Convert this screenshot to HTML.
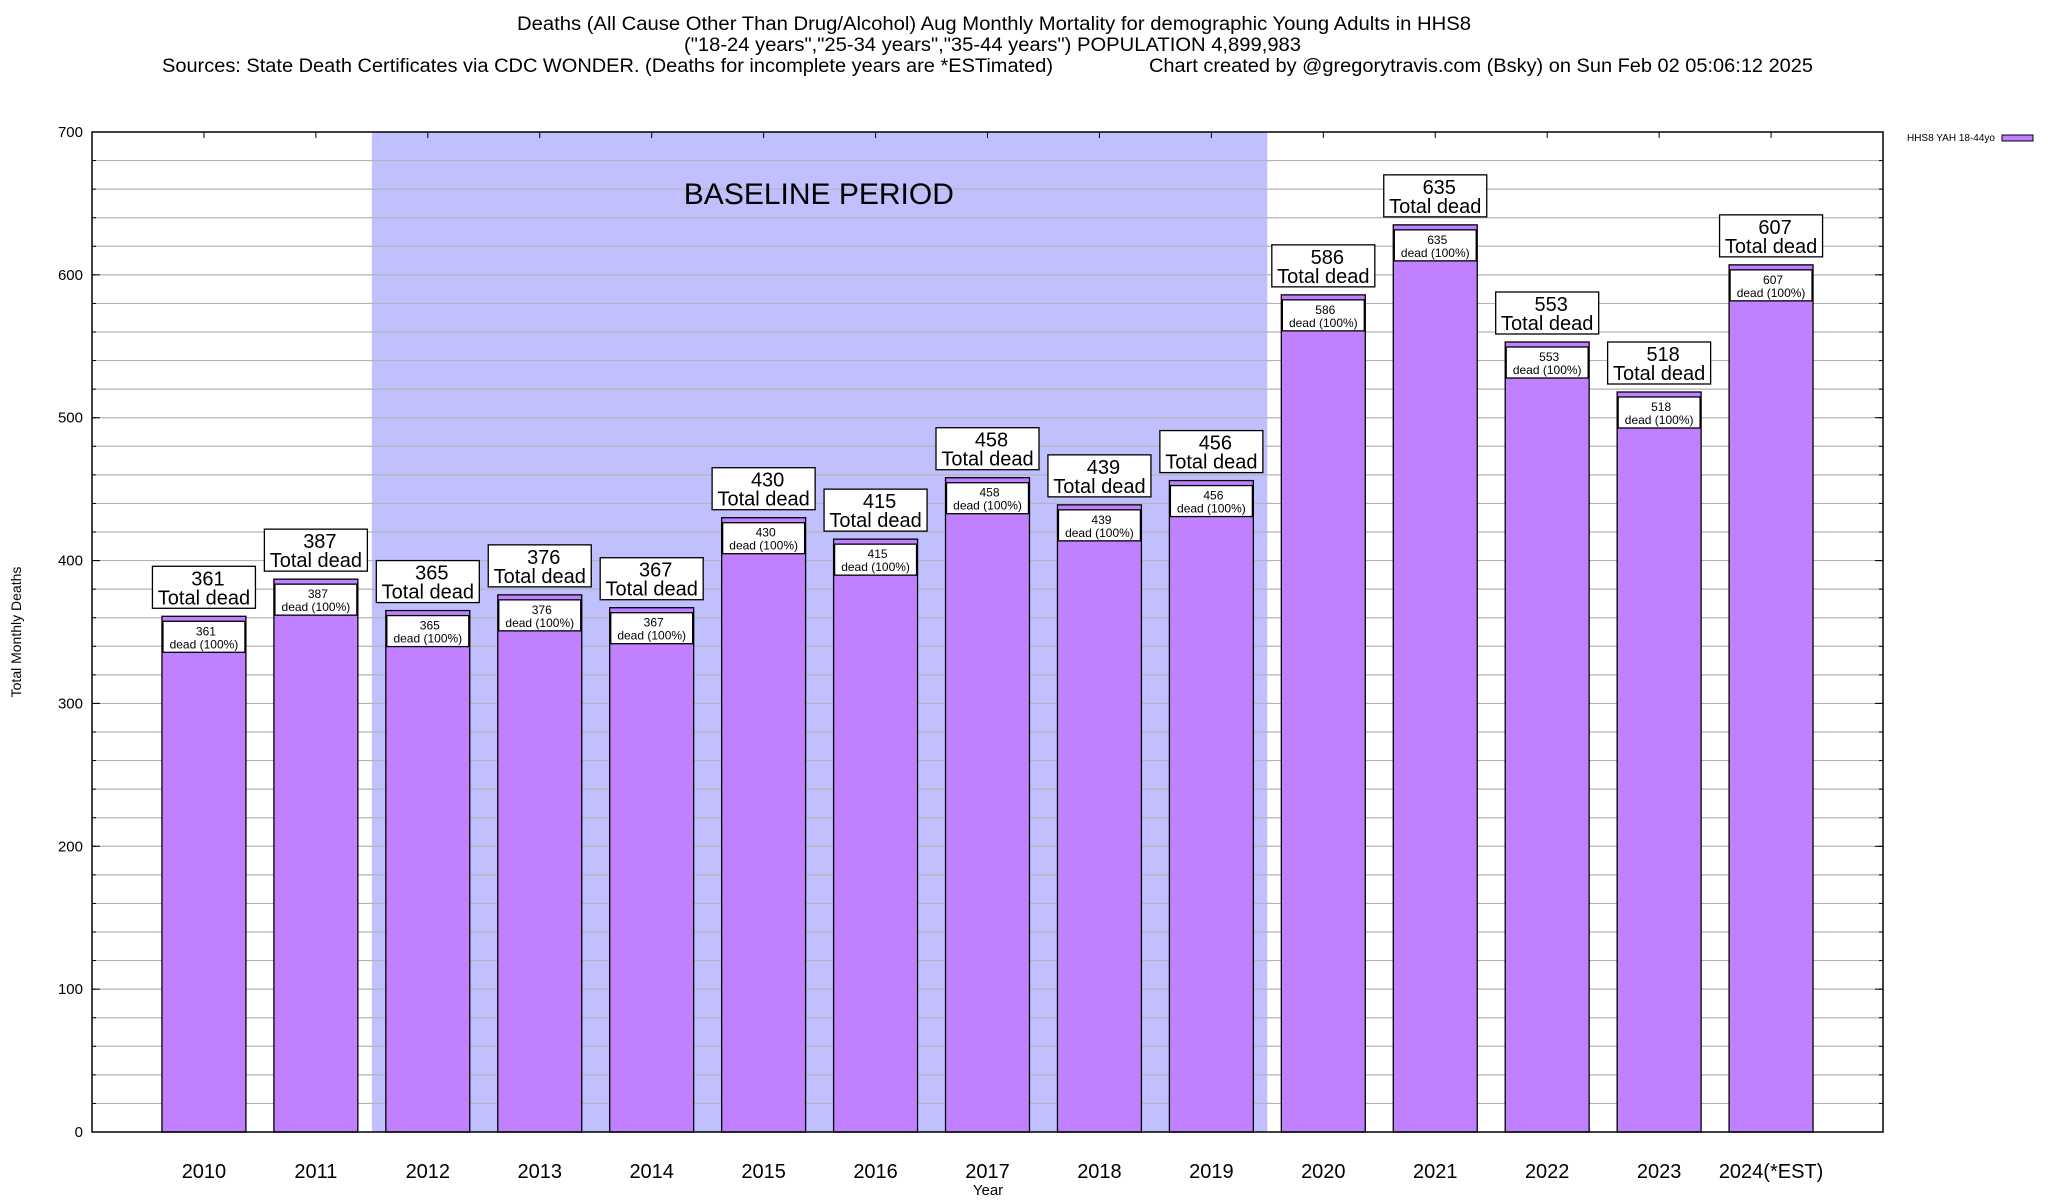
<!DOCTYPE html>
<html><head><meta charset="utf-8"><style>
html,body{margin:0;padding:0;background:#fff;}
svg{display:block;font-family:"Liberation Sans",sans-serif;}
</style></head><body>
<svg id="chart" width="2048" height="1200" viewBox="0 0 2048 1200" xmlns="http://www.w3.org/2000/svg">
<g font-size="19" fill="#000">
<text x="517" y="30" textLength="954" lengthAdjust="spacingAndGlyphs">Deaths (All Cause Other Than Drug/Alcohol) Aug Monthly Mortality for demographic Young Adults in HHS8</text>
<text x="684" y="51" textLength="617" lengthAdjust="spacingAndGlyphs">("18-24 years","25-34 years","35-44 years") POPULATION 4,899,983</text>
<text x="162" y="72" textLength="891" lengthAdjust="spacingAndGlyphs">Sources: State Death Certificates via CDC WONDER. (Deaths for incomplete years are *ESTimated)</text>
<text x="1149" y="72" textLength="664" lengthAdjust="spacingAndGlyphs">Chart created by @gregorytravis.com (Bsky) on Sun Feb 02 05:06:12 2025</text>
</g>
<g id="plot"></g>
<text x="0" y="0" font-size="14" text-anchor="middle" transform="translate(21,632) rotate(-90)">Total Monthly Deaths</text>
<text x="988" y="1195" font-size="15" text-anchor="middle">Year</text>
<g>
<text x="1995" y="141" font-size="10" text-anchor="end">HHS8 YAH 18-44yo</text>
<rect x="2002" y="135" width="31" height="6" fill="#c080ff" stroke="#000" stroke-width="1"/>
</g>
</svg>
<script>
const categories = ["2010","2011","2012","2013","2014","2015","2016","2017","2018","2019","2020","2021","2022","2023","2024(*EST)"];
const deaths = [361,387,365,376,367,430,415,458,439,456,586,635,553,518,607];
const yTicks = [0,100,200,300,400,500,600,700];
const baselineStart = 2;   // index of 2012
const baselineEnd = 9;     // index of 2019

const NS = "http://www.w3.org/2000/svg";
const L = 92, R = 1883, T = 132, B = 1132;
const yMax = 700;
const slot = (R - L) / (categories.length + 1);
function xPos(i){ return L + slot * (i + 1); }
function yPos(v){ return B - (v / yMax) * (B - T); }
const g = document.getElementById('plot');
function el(tag, attrs, parent){
  const e = document.createElementNS(NS, tag);
  for (const k in attrs) e.setAttribute(k, attrs[k]);
  (parent || g).appendChild(e);
  return e;
}
const shade = el('rect', {x: xPos(baselineStart) - slot/2, y: T, width: (baselineEnd - baselineStart + 1) * slot, height: B - T, fill: '#c0c0ff'});


for (let v = 20; v < yMax; v += 20) {
  const ln = el('line', {x1: L, x2: R, y1: yPos(v), y2: yPos(v), stroke: '#b4b4b4', 'stroke-width': 1.2});
  
  
  el('line', {x1: L, x2: L + 4, y1: yPos(v), y2: yPos(v), stroke: '#000', 'stroke-width': 1});
  el('line', {x1: R - 4, x2: R, y1: yPos(v), y2: yPos(v), stroke: '#000', 'stroke-width': 1});
}
const bl = el('text', {x: xPos(baselineStart) - slot/2 + 447, y: 204, 'font-size': 30, 'text-anchor': 'middle'});
bl.textContent = 'BASELINE PERIOD';


yTicks.forEach(v => {
  const t = el('text', {x: 83, y: yPos(v) + 5, 'font-size': 15, 'text-anchor': 'end'});
  t.textContent = v;
  
  
  el('line', {x1: L, x2: L + 8, y1: yPos(v), y2: yPos(v), stroke: '#000', 'stroke-width': 1});
  el('line', {x1: R - 8, x2: R, y1: yPos(v), y2: yPos(v), stroke: '#000', 'stroke-width': 1});
});
const bw = slot * 0.75;
categories.forEach((c, i) => {
  const v = deaths[i];
  const cx = xPos(i);
  const yt = yPos(v);
  const bar = el('rect', {x: cx - bw/2, y: yt, width: bw, height: B - yt, fill: '#c080ff', stroke: '#000', 'stroke-width': 1.3});
  
  
  const ib = el('rect', {x: cx - bw/2 + 1, y: yt + 5, width: bw - 2, height: 31, fill: '#fff', stroke: '#000', 'stroke-width': 1.3});
  
  
  const t1 = el('text', {x: cx + 2, y: yt + 19, 'font-size': 12, 'text-anchor': 'middle'});
  t1.textContent = v;
  
  
  const t2 = el('text', {x: cx, y: yt + 32, 'font-size': 12, 'text-anchor': 'middle'});
  t2.textContent = 'dead (100%)';
  
  
  const ob = el('rect', {x: cx - 51.5, y: yt - 50, width: 103, height: 42, fill: '#fff', stroke: '#000', 'stroke-width': 1.3});
  
  
  const t3 = el('text', {x: cx + 4, y: yt - 31, 'font-size': 20, 'text-anchor': 'middle'});
  t3.textContent = v;
  
  
  const t4 = el('text', {x: cx, y: yt - 12, 'font-size': 20, 'text-anchor': 'middle'});
  t4.textContent = 'Total dead';
  
  
  const xl = el('text', {x: cx, y: 1178, 'font-size': 20, 'text-anchor': 'middle'});
  xl.textContent = c;
  
  
  el('line', {x1: cx, x2: cx, y1: T, y2: T + 6, stroke: '#000', 'stroke-width': 1});
});
const fr = el('rect', {x: L, y: T, width: R - L, height: B - T, fill: 'none', stroke: '#000', 'stroke-width': 1.5});


</script>
</body></html>
